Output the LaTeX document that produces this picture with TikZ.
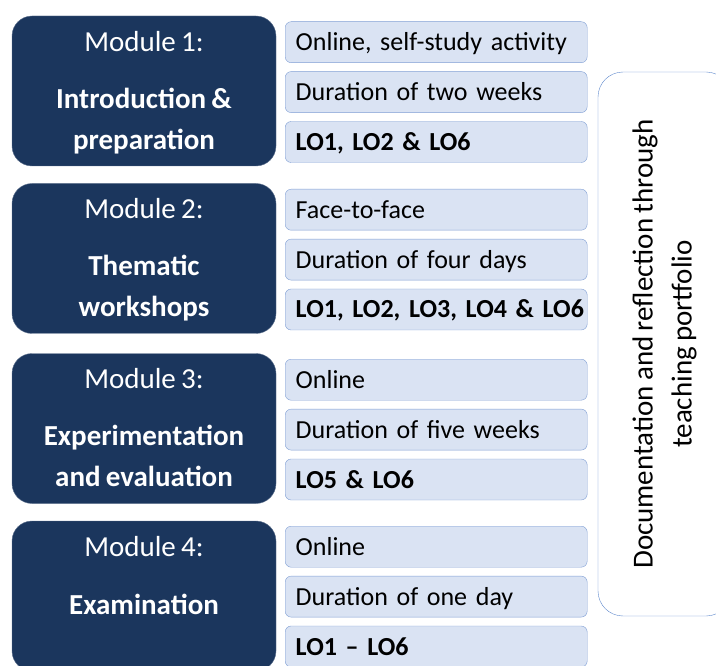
\documentclass[tikz,border=0pt]{standalone}
\usepackage{fontspec}
\setmainfont{Carlito}[WordSpace=0.8]
\usetikzlibrary{positioning}

\definecolor{modnavy}{HTML}{1B365D}
\definecolor{infofill}{HTML}{DAE3F3}
\definecolor{infoline}{HTML}{7F9ED4}
\definecolor{portline}{HTML}{5E88CC}

\tikzset{
  modbox/.style={rectangle, fill=modnavy, draw=modnavy!70!white, rounded corners=20pt,
                 minimum width=264pt, minimum height=150pt, inner sep=0pt},
  modtitle/.style={text=white, inner sep=0pt, text height=18.7pt, text depth=0pt,
                   font=\fontsize{29}{35}\selectfont},
  modname/.style={modtitle, font=\bfseries\fontsize{29}{35}\selectfont},
  infobox/.style={rectangle, fill=infofill, draw=infoline, rounded corners=6pt,
                  text width=281pt, inner xsep=10.5pt, inner ysep=0pt,
                  minimum height=41pt, text height=17pt, text depth=0pt, align=left,
                  font=\fontsize{26}{31}\selectfont},
  portbox/.style={rectangle, draw=portline, rounded corners=25pt, rotate=90,
                  minimum width=544pt, minimum height=133pt, align=center,
                  font=\fontsize{29}{39}\selectfont}
}

\begin{document}
\begin{tikzpicture}[x=1pt, y=-1pt]
\useasboundingbox (0,0) rectangle (716,666);
\clip (0,0) rectangle (716,666);

% documentation column
\node[portbox] (portfolio) at (664.5,344)
{Documentation and reflection through\\teaching portfolio};

% module 1
\node[modbox] (m1) at (144,91) {};
\node[modtitle] (m1t) at (144,42) {Module 1:};
\node[modname] (m1n) at (144,99) {Introduction \&};
\node[modname] (m1m) at (144,140) {preparation};
\node[infobox, anchor=north west] (m1a) at (285,21.5) {Online, self-study activity};
\node[infobox, below=8.5pt of m1a] (m1b) {Duration of two weeks};
\node[infobox, below=8.5pt of m1b] (m1c) {\bfseries LO1, LO2 \& LO6};

% module 2
\node[modbox] (m2) at (144,258.5) {};
\node[modtitle] (m2t) at (144,209.5) {Module 2:};
\node[modname] (m2n) at (144,266.5) {Thematic};
\node[modname] (m2m) at (144,307.5) {workshops};
\node[infobox, anchor=north west] (m2a) at (285,189) {Face-to-face};
\node[infobox, below=8.5pt of m2a] (m2b) {Duration of four days};
\node[infobox, below=8.5pt of m2b] (m2c) {\mbox{\bfseries LO1, LO2, LO3, LO4 \& LO6}};

% module 3
\node[modbox] (m3) at (144,428.5) {};
\node[modtitle] (m3t) at (144,379.5) {Module 3:};
\node[modname] (m3n) at (144,436.5) {Experimentation};
\node[modname] (m3m) at (144,477.5) {and evaluation};
\node[infobox, anchor=north west] (m3a) at (285,359) {Online};
\node[infobox, below=8.5pt of m3a] (m3b) {Duration of five weeks};
\node[infobox, below=8.5pt of m3b] (m3c) {\bfseries LO5 \& LO6};

% module 4
\node[modbox] (m4) at (144,596) {};
\node[modtitle] (m4t) at (144,547) {Module 4:};
\node[modname] (m4n) at (144,605) {Examination};
\node[infobox, anchor=north west] (m4a) at (285,526) {Online};
\node[infobox, below=8.5pt of m4a] (m4b) {Duration of one day};
\node[infobox, below=8.5pt of m4b] (m4c) {\bfseries LO1 -- LO6};
\end{tikzpicture}
\end{document}
